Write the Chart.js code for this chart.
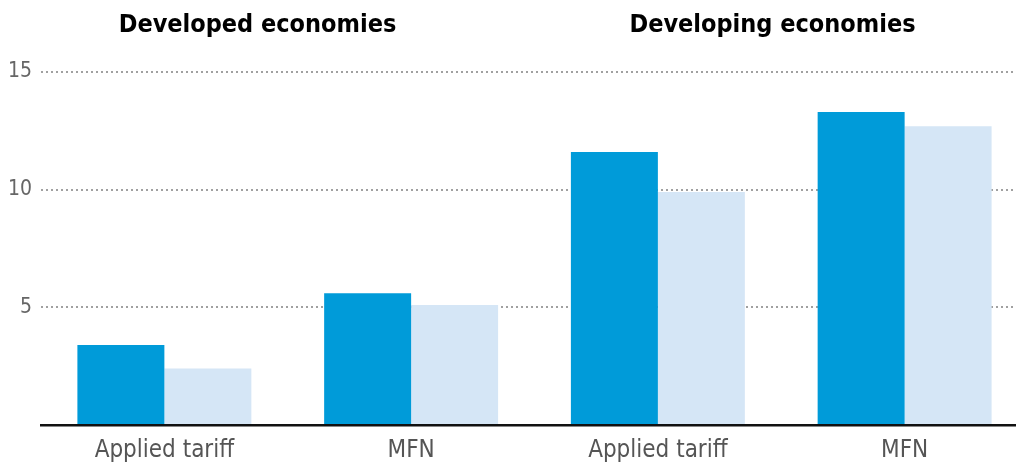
<!DOCTYPE html>
<html>
<head>
<meta charset="utf-8">
<script src="https://cdn.jsdelivr.net/npm/chart.js@4.4.1/dist/chart.umd.min.js"></script>
<style>
    html, body { margin: 0; padding: 0; background: #fff; overflow: hidden; }
    #wrap { position: absolute; left: 0; top: 0; width: 1030px; height: 464px; }
</style>
</head>
<body>
<div id="wrap"><canvas id="tariffChart"></canvas></div>
<script>
const categories = ['Applied tariff', 'MFN', 'Applied tariff', 'MFN'];
const groupTitles = ['Developed economies', 'Developing economies'];
const seriesA = [3.4, 5.6, 11.6, 13.3];
const seriesB = [2.4, 5.1, 9.9, 12.7];
const yTicks = [0, 5, 10, 15];

const FONT = "'DejaVu Sans Condensed', 'Liberation Sans Narrow', sans-serif";

// two bold headings, one over each half of the chart
const groupTitlePlugin = {
    id: 'groupTitles',
    afterDraw(chart) {
        const ctx = chart.ctx;
        const w = chart.width;
        ctx.save();
        ctx.font = `bold 25px ${FONT}`;
        ctx.fillStyle = '#000';
        ctx.textAlign = 'center';
        ctx.textBaseline = 'alphabetic';
        ctx.fillText(groupTitles[0], w / 4, 32);
        ctx.fillText(groupTitles[1], w * 3 / 4, 32);
        ctx.restore();
    }
};

const ctx = document.getElementById('tariffChart').getContext('2d');

new Chart(ctx, {
    type: 'bar',
    data: {
        labels: categories,
        datasets: [
            {
                data: seriesA,
                backgroundColor: '#009bd9',
                borderWidth: 0
            },
            {
                data: seriesB,
                backgroundColor: '#d5e6f6',
                borderWidth: 0
            }
        ]
    },
    options: {
        responsive: true,
        maintainAspectRatio: false,
        animation: false,
        layout: {
            padding: { top: 72, right: 2, bottom: 0, left: 0 }
        },
        categoryPercentage: 0.705,
        barPercentage: 1.0,
        plugins: {
            legend: { display: false },
            tooltip: { enabled: false }
        },
        scales: {
            x: {
                afterFit(scale) {
                    scale.height = 39;
                },
                grid: { display: false },
                border: { display: true, color: '#111', width: 2.5 },
                ticks: {
                    color: '#555',
                    padding: 5,
                    font: { family: FONT, size: 24, lineHeight: 1.1 }
                }
            },
            y: {
                min: 0,
                max: 15,
                afterFit(scale) {
                    scale.width = 41;
                },
                afterBuildTicks(scale) {
                    scale.ticks = yTicks.map(v => ({ value: v }));
                },
                grid: {
                    color: (c) => c.tick && c.tick.value === 0 ? 'rgba(0,0,0,0)' : '#a0a0a0',
                    lineWidth: 2,
                    drawTicks: false
                },
                border: { display: false, dash: [2, 3] },
                ticks: {
                    color: '#666',
                    padding: 9,
                    font: { family: FONT, size: 21 },
                    callback: (v) => v === 0 ? '' : v
                }
            }
        }
    },
    plugins: [groupTitlePlugin]
});
</script>
</body>
</html>
